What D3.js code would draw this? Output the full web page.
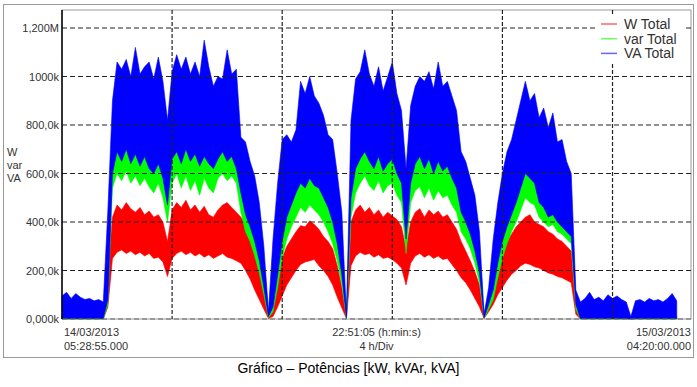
<!DOCTYPE html>
<html>
<head>
<meta charset="utf-8">
<script src="https://cdn.jsdelivr.net/npm/d3@7"></script>
<style>
  body { margin: 0; background: #fff; }
  text { font-family: 'Liberation Sans', Arial, sans-serif; }
</style>
</head>
<body>
<div id="chart"></div>
<script>
// time axis
const startLabel = '14/03/2013 05:28:55';
const endLabel = '15/03/2013 04:20:00';
const sampleMinutes = 10;
const gridHours = 4;

const seriesNames = ['W Total', 'var Total', 'VA Total'];
const seriesColors = ['#ff0000', '#00ff00', '#0000ff'];

const yTickValues = [0, 200, 400, 600, 800, 1000, 1200];
const yTickLabels = ['0,000k', '200,0k', '400,0k', '600,0k', '800,0k', '1000k', '1,200M'];
const yTitle = ['W', 'var', 'VA'];
const xLabelsTop = ['14/03/2013', '22:51:05 (h:min:s)', '15/03/2013'];
const xLabelsBottom = ['05:28:55.000', '4 h/Div', '04:20:00.000'];
const caption = 'Gráfico – Potências [kW, kVAr, kVA]';

// min / max of each 10 min sample (k)
const vaHi = [
  95,110,85,105,90,80,85,75,80,70,
  450,900,1060,1030,1070,1000,1120,1010,1040,1060,
  990,1080,980,820,1020,1090,1030,1080,1010,1060,
  1000,1150,1040,960,1000,990,1110,1010,1030,750,
  730,650,590,480,300,30,330,560,740,760,
  730,780,980,930,1000,920,890,840,760,740,
  600,440,15,820,990,1020,1110,1010,960,1040,
  940,1000,1060,930,860,620,880,960,1000,980,
  1020,950,1060,960,980,920,860,690,650,580,
  510,360,20,130,330,480,600,690,740,820,
  900,980,900,930,830,870,790,850,730,740,
  650,600,120,70,85,110,80,90,75,100,
  85,95,80,70,10,75,80,70,85,75,
  80,70,85,105,75,null,null,null
];
const vaLo = [
  2,2,2,2,2,2,2,2,2,2,
  80,600,690,650,700,640,680,630,670,620,
  600,640,580,470,660,690,640,700,650,680,
  630,670,640,620,660,690,650,670,620,520,
  430,380,320,240,130,10,50,180,320,420,
  470,520,560,540,580,550,540,500,460,400,
  310,180,5,500,620,660,690,650,620,670,
  610,640,660,600,560,330,560,640,670,620,
  660,600,650,610,630,580,540,440,400,350,
  280,190,5,60,120,230,320,380,430,480,
  540,600,580,560,480,460,420,430,400,380,
  360,340,60,2,2,2,2,2,2,2,
  2,2,2,2,0,2,2,2,2,2,
  2,2,2,2,2,null,null,null
];
const varHi = [
  15,18,12,16,14,12,13,11,12,10,
  300,700,760,740,770,720,760,730,750,720,
  700,730,690,560,740,770,720,760,730,750,
  710,760,730,700,740,760,740,750,720,620,
  560,520,470,380,230,25,200,360,480,540,
  560,610,680,660,700,670,650,610,560,510,
  420,290,10,620,720,740,770,730,710,750,
  700,730,750,690,650,440,680,740,760,720,
  750,700,740,710,720,680,640,560,520,460,
  390,280,15,100,280,360,440,500,560,620,
  680,730,700,690,620,620,580,600,540,530,
  480,450,80,12,14,16,12,14,11,15,
  13,14,12,11,2,12,13,11,14,12,
  13,11,14,16,12,null,null,null
];
const varLo = [
  0,0,0,0,0,0,0,0,0,0,
  60,540,600,570,610,560,590,550,580,545,
  520,560,500,400,560,600,540,590,530,570,
  510,580,540,520,580,600,570,590,560,440,
  360,320,260,190,100,5,30,130,250,330,
  380,420,460,440,470,450,430,400,360,310,
  240,140,3,420,520,560,590,550,530,570,
  520,550,560,510,480,270,480,530,545,500,
  540,490,530,500,510,470,440,360,330,290,
  230,150,3,40,80,170,250,310,360,400,
  450,500,480,470,420,400,380,390,360,350,
  330,310,40,0,0,0,0,0,0,0,
  0,0,0,0,0,0,0,0,0,0,
  0,0,0,0,0,null,null,null
];
const wHi = [
  10,12,8,11,9,8,9,7,8,7,
  200,420,470,450,480,455,440,460,430,445,
  420,430,400,320,450,480,460,490,450,470,
  440,465,430,420,450,470,480,460,440,420,
  390,350,300,230,140,25,110,190,250,300,
  330,360,385,380,405,390,370,340,320,290,
  220,130,8,400,450,470,440,460,430,450,
  420,440,425,410,380,290,400,440,455,420,
  450,430,445,420,430,400,370,320,280,240,
  195,140,15,90,170,230,280,320,350,380,
  400,420,430,400,390,380,360,350,330,320,
  300,280,50,8,9,7,10,8,9,7,
  8,9,7,8,1,8,9,7,8,9,
  8,7,9,10,8,null,null,null
];
const wLo = [
  0,0,0,0,0,0,0,0,0,0,
  50,250,275,285,270,280,265,275,260,270,
  250,255,235,175,250,270,280,265,275,260,
  270,255,265,250,260,270,255,250,240,230,
  200,165,120,80,40,2,10,50,95,140,
  170,200,225,235,240,245,220,200,175,140,
  90,45,2,220,260,275,265,270,255,265,
  250,255,245,230,210,140,230,260,270,255,
  265,250,260,245,250,225,200,170,150,120,
  85,50,2,30,60,100,130,160,185,200,
  220,230,225,215,210,200,190,185,175,170,
  160,150,20,0,0,0,0,0,0,0,
  0,0,0,0,0,0,0,0,0,0,
  0,0,0,0,0,null,null,null
];

const width = 697, height = 387;
const plotLeft = 62, plotRight = 691, plotTop = 10, plotBottom = 319;

const parse = d3.timeParse('%d/%m/%Y %H:%M:%S');
const tStart = parse(startLabel), tEnd = parse(endLabel);

const svg = d3.select('#chart').append('svg')
  .attr('width', width)
  .attr('height', height);

const x = d3.scaleTime().domain([tStart, tEnd]).range([plotLeft, plotRight]);
const y = d3.scaleLinear().domain([0, 1200]).range([plotBottom, 28]);

// outer frame
svg.append('rect')
  .attr('x', 3.5).attr('y', 4.5)
  .attr('width', 690).attr('height', 353)
  .attr('fill', 'none').attr('stroke', '#999');

svg.append('rect')
  .attr('x', plotLeft).attr('y', plotTop)
  .attr('width', plotRight - plotLeft).attr('height', plotBottom - plotTop)
  .attr('fill', '#fff').attr('stroke', '#999');

const bands = [[wLo, wHi], [varLo, varHi], [vaLo, vaHi]].map(([lo, hi]) =>
  lo.map((v, i) => ({ t: d3.timeMinute.offset(tStart, i * sampleMinutes), lo: v, hi: hi[i] }))
);

const area = d3.area()
  .defined(d => d.hi != null)
  .x(d => x(d.t))
  .y0(d => y(d.lo))
  .y1(d => y(d.hi));

svg.append('g').selectAll('path')
  .data(bands)
  .join('path')
  .attr('d', area)
  .attr('fill', (d, i) => seriesColors[i])
  .attr('stroke', (d, i) => seriesColors[i])
  .attr('stroke-width', 0.6);

// grid on top of the traces
const grid = svg.append('g');
grid.selectAll('line.h')
  .data(yTickValues)
  .join('line')
  .attr('class', 'h')
  .attr('x1', plotLeft).attr('x2', plotRight)
  .attr('y1', d => y(d)).attr('y2', d => y(d))
  .attr('stroke', d => d === 0 ? '#666' : '#222')
  .attr('stroke-width', 1.2)
  .attr('stroke-dasharray', '5,3');

const vTimes = d3.range(1, 6).map(i => d3.timeHour.offset(tStart, i * gridHours));
grid.selectAll('line.v')
  .data(vTimes)
  .join('line')
  .attr('class', 'v')
  .attr('x1', d => x(d)).attr('x2', d => x(d))
  .attr('y1', plotTop).attr('y2', plotBottom)
  .attr('stroke', '#222')
  .attr('stroke-width', 1.2)
  .attr('stroke-dasharray', '4,2');

svg.append('line')
  .attr('x1', plotLeft).attr('x2', plotLeft)
  .attr('y1', plotTop).attr('y2', plotBottom)
  .attr('stroke', '#000').attr('stroke-width', 1.5);

const yAxis = svg.append('g')
  .attr('transform', `translate(${plotLeft},0)`)
  .call(d3.axisLeft(y).tickValues(yTickValues).tickSize(0).tickPadding(3)
    .tickFormat((d, i) => yTickLabels[i]));
yAxis.select('.domain').remove();
yAxis.selectAll('text')
  .style('font-family', "'Liberation Sans', Arial, sans-serif")
  .style('font-size', '11px')
  .attr('fill', '#333');

svg.append('g').selectAll('text')
  .data(yTitle)
  .join('text')
  .attr('x', 7)
  .attr('y', (d, i) => 156 + i * 13)
  .attr('font-size', 11)
  .attr('fill', '#333')
  .text(d => d);

// time labels
const xPos = [x(tStart) + 2, (plotLeft + plotRight) / 2, plotRight];
const anchors = ['start', 'middle', 'end'];
svg.append('g').selectAll('text')
  .data(xLabelsTop)
  .join('text')
  .attr('x', (d, i) => xPos[i])
  .attr('y', 336)
  .attr('text-anchor', (d, i) => anchors[i])
  .attr('font-size', 11)
  .attr('fill', '#333')
  .text(d => d);
svg.append('g').selectAll('text')
  .data(xLabelsBottom)
  .join('text')
  .attr('x', (d, i) => xPos[i])
  .attr('y', 350)
  .attr('text-anchor', (d, i) => anchors[i])
  .attr('font-size', 11)
  .attr('fill', '#333')
  .text(d => d);

// legend
const legend = svg.append('g');
legend.append('rect')
  .attr('x', 597).attr('y', 16)
  .attr('width', 89).attr('height', 46)
  .attr('fill', '#fff');
const rows = legend.selectAll('g')
  .data(seriesNames)
  .join('g')
  .attr('transform', (d, i) => `translate(601,${24 + i * 14.7})`);
rows.append('line')
  .attr('x1', 0).attr('x2', 16)
  .attr('stroke', (d, i) => seriesColors[i])
  .attr('stroke-opacity', 0.6)
  .attr('stroke-width', 1.5);
rows.append('text')
  .attr('x', 23).attr('dy', '0.35em')
  .attr('font-size', 14)
  .attr('fill', '#333')
  .text(d => d);

svg.append('text')
  .attr('x', 348.5).attr('y', 373)
  .attr('text-anchor', 'middle')
  .attr('font-size', 14)
  .attr('fill', '#000')
  .text(caption);
</script>
</body>
</html>
